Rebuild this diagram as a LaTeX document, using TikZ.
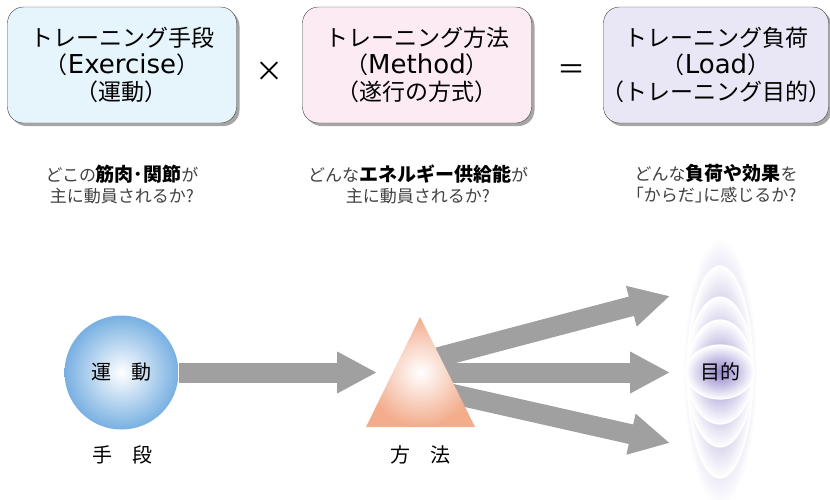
\documentclass[tikz,border=0pt]{standalone}
\usepackage{fontspec}
\setmainfont{Noto Sans CJK JP}
\newfontfamily\latinfont{DejaVu Sans}
\usetikzlibrary{calc, positioning, arrows.meta, shadows}

\definecolor{boxblue}{HTML}{E6F4FC}
\definecolor{boxpink}{HTML}{FCEBF3}
\definecolor{boxlilac}{HTML}{E9E7F5}
\definecolor{ballblue}{HTML}{78B0E2}
\definecolor{peach}{HTML}{F3AC8C}
\definecolor{arrowgray}{HTML}{A0A0A0}
\definecolor{ringcore}{HTML}{9486CC}

\pgfdeclareradialshading{ringshade}{\pgfpoint{0bp}{0bp}}{color(0bp)=(ringcore); color(12bp)=(ringcore!55!white); color(25bp)=(white); color(50bp)=(white)}
\pgfdeclareradialshading{glowshade}{\pgfpoint{0bp}{0bp}}{color(0bp)=(ringcore!50!white); color(18bp)=(ringcore!22!white); color(25bp)=(white); color(50bp)=(white)}

\newcommand{\bsub}{\fontsize{19}{21}\selectfont\bfseries\color{black}}
\newcommand{\latw}[1]{{\latinfont\fontsize{26}{27}\selectfont #1}}

\tikzset{
  termbox/.style={draw=black!75, rounded corners=16pt, minimum width=229pt, minimum height=116pt,
    inner sep=0pt, align=center, font=\fontsize{23}{27}\selectfont,
    drop shadow={shadow xshift=3pt, shadow yshift=-3pt, fill=black!35, opacity=1}},
  subnote/.style={align=center, text=black!75, font=\fontsize{17}{21}\selectfont},
  biglabel/.style={font=\fontsize{20}{20}\selectfont},
  bigarrow/.style={draw=arrowgray, line width=20pt, -{Triangle[length=40pt, width=39pt]}}
}

\begin{document}
\begin{tikzpicture}[x=1pt, y=-1pt]
\useasboundingbox (0,0) rectangle (830,499);

% Top row: the three terms
\node[termbox, fill=boxblue] (exbox) at (122,65) {トレーニング手段\\（\latw{Exercise}）\\（運動）};
\node[termbox, fill=boxpink] (mebox) at (417,65) {トレーニング方法\\（\latw{Method}）\\（遂行の方式）};
\node[termbox, fill=boxlilac, minimum width=225pt, inner xsep=-12pt] (lobox) at (716,65) {トレーニング負荷\\（\latw{Load}）\\（トレーニング目的）};
\node[font=\fontsize{28}{28}\selectfont] (times) at (269,72) {×};
\node[font=\fontsize{28}{28}\selectfont] (equal) at (571,72) {＝};

% Questions under the terms
\node[subnote] (exnote) at (122,184) {どこの{\bsub 筋肉･関節}が\\主に動員されるか?};
\node[subnote] (menote) at (418,184) {どんな{\bsub エネルギー供給能}が\\主に動員されるか?};
\node[subnote] (lonote) at (716,184) {どんな{\bsub 負荷や効果}を\\｢からだ｣に感じるか?};

% Bottom row: means, method, aim
\coordinate (methin) at (377,372.5);
\coordinate (methA) at (409,365);
\coordinate (methB) at (420,372.5);
\coordinate (methC) at (426,388);
\coordinate (goal) at (720,372);
\coordinate (goalA) at (670,296);
\coordinate (goalB) at (670,372.5);
\coordinate (goalC) at (670,443);

\node[circle, minimum size=114pt, inner sep=0pt, inner color=white, outer color=ballblue, biglabel] (exer) at (121.5,372.5) {運　動};
\draw[bigarrow] (exer.east) -- (methin);
\draw[bigarrow] (methA) -- (goalA);
\draw[bigarrow] (methB) -- (goalB);
\draw[bigarrow] (methC) -- (goalC);
\shade[inner color=white, outer color=peach] (420,317) -- (475,427) -- (366,427) -- cycle;

% Aim: stacked glowing rings
\shade[shading=glowshade] (goal) ellipse [x radius=37, y radius=134];
\foreach \ry in {106,75,52} {
  \shadedraw[shading=ringshade, draw=white, line width=1.2pt] (goal) ellipse [x radius=33, y radius=\ry];
}
\shadedraw[shading=ringshade, draw=white, line width=1.2pt] (goal) ellipse [x radius=34, y radius=27];
\node[biglabel] (aim) at (goal) {目的};

\node[biglabel] (exlabel) at (122,455) {手　段};
\node[biglabel] (melabel) at (420,455) {方　法};
\end{tikzpicture}
\end{document}
